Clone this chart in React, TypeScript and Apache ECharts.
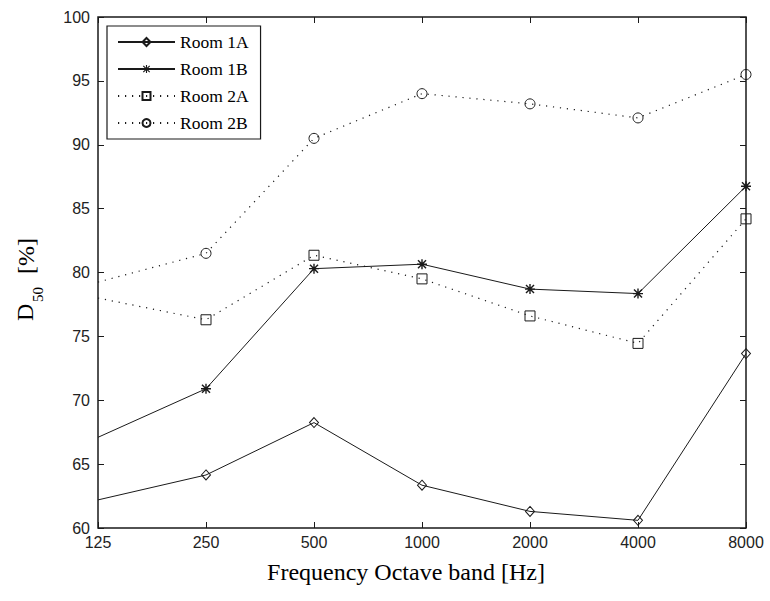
import React, { useEffect, useRef } from "react";
import * as echarts from "echarts";

// Octave band centre frequencies [Hz]
const bands = ["125", "250", "500", "1000", "2000", "4000", "8000"];

// D50 definition values [%] per room
const room1A = [62.2, 64.15, 68.25, 63.35, 61.3, 60.6, 73.65];
const room1B = [67.1, 70.9, 80.3, 80.65, 78.7, 78.35, 86.75];
const room2A = [78.0, 76.3, 81.35, 79.5, 76.6, 74.45, 84.2];
const room2B = [79.25, 81.5, 90.5, 94.0, 93.2, 92.1, 95.5];

const yTicks = { min: 60, max: 100, step: 5 };

const ASTERISK =
  "path://M4.3 0H5.7V10H4.3Z M0 4.3H10V5.7H0Z M0.5 1.5L1.5 0.5L9.5 8.5L8.5 9.5Z M8.5 0.5L9.5 1.5L1.5 9.5L0.5 8.5Z";

const INK = "#1a1a1a";
const SERIF = "'Liberation Serif', 'Times New Roman', serif";
const SANS = "'Liberation Sans', Arial, sans-serif";

// The 125 Hz value sits on the left frame; its marker is not shown.
const withHiddenFirst = (vals: number[]) =>
  vals.map((v, i) => (i === 0 ? { value: v, symbol: "none" } : v));

export default function App() {
  const ref = useRef<HTMLDivElement>(null);

  useEffect(() => {
    if (!ref.current) return;
    const chart = echarts.init(ref.current, null, { renderer: "svg" });

    const hollow = { color: "rgba(255,255,255,0)", borderColor: INK, borderWidth: 1 };
    const dotted = { color: INK, width: 1.2, type: [1.2, 5.8] as any };
    const solid = { color: INK, width: 1 };

    const seriesDefs = [
      { name: "Room 1A", data: room1A, symbol: "diamond", size: [9, 10], line: solid, item: hollow },
      { name: "Room 1B", data: room1B, symbol: ASTERISK, size: 10, line: solid, item: { color: INK } },
      { name: "Room 2A", data: room2A, symbol: "rect", size: 10, line: dotted, item: hollow },
      { name: "Room 2B", data: room2B, symbol: "circle", size: 10, line: dotted, item: hollow },
    ];

    const tickStyle = { show: true, inside: true, length: 6, lineStyle: { color: INK, width: 1 } };

    chart.setOption({
      animation: false,
      backgroundColor: "#fff",
      grid: {
        left: 98,
        right: 24,
        top: 17,
        bottom: 73,
        show: true,
        borderColor: INK,
        borderWidth: 1.5,
        backgroundColor: "transparent",
      },
      legend: {
        orient: "vertical",
        left: 107,
        top: 26,
        padding: [7, 12, 7, 10],
        itemGap: 9,
        itemWidth: 57,
        itemHeight: 10,
        borderColor: INK,
        borderWidth: 1.2,
        backgroundColor: "#fff",
        textStyle: { fontFamily: SERIF, fontSize: 17.5, color: "#000" },
        data: seriesDefs.map((s) => s.name),
      },
      xAxis: [
        {
          type: "category",
          data: bands,
          boundaryGap: false,
          position: "bottom",
          axisLine: { show: false },
          axisTick: { ...tickStyle, alignWithLabel: true },
          axisLabel: { color: "#222", fontFamily: SANS, fontSize: 16, margin: 6, interval: 0 },
          splitLine: { show: false },
        },
        {
          type: "category",
          data: bands,
          boundaryGap: false,
          position: "top",
          axisLine: { show: false },
          axisTick: { ...tickStyle, alignWithLabel: true },
          axisLabel: { show: false },
          splitLine: { show: false },
        },
      ],
      yAxis: [
        {
          type: "value",
          min: yTicks.min,
          max: yTicks.max,
          interval: yTicks.step,
          position: "left",
          axisLine: { show: false },
          axisTick: tickStyle,
          axisLabel: { color: "#222", fontFamily: SANS, fontSize: 16, margin: 8 },
          splitLine: { show: false },
        },
        {
          type: "value",
          min: yTicks.min,
          max: yTicks.max,
          interval: yTicks.step,
          position: "right",
          axisLine: { show: false },
          axisTick: tickStyle,
          axisLabel: { show: false },
          splitLine: { show: false },
        },
      ],
      series: seriesDefs.map((s) => ({
        name: s.name,
        type: "line",
        xAxisIndex: 0,
        yAxisIndex: 0,
        data: withHiddenFirst(s.data),
        symbol: s.symbol,
        symbolSize: s.size,
        showAllSymbol: true,
        clip: false,
        lineStyle: s.line,
        itemStyle: s.item,
        emphasis: { disabled: true },
      })),
      graphic: [
        {
          type: "text",
          x: 406,
          y: 572,
          style: {
            text: "Frequency Octave band [Hz]",
            fontFamily: SERIF,
            fontSize: 24,
            fill: "#000",
            align: "center",
            verticalAlign: "middle",
          },
        },
        {
          type: "text",
          x: 25,
          y: 321,
          rotation: Math.PI / 2,
          style: { text: "D", fontFamily: SERIF, fontSize: 24, fill: "#000", align: "left", verticalAlign: "middle" },
        },
        {
          type: "text",
          x: 38,
          y: 302,
          rotation: Math.PI / 2,
          style: { text: "50", fontFamily: SERIF, fontSize: 15, fill: "#000", align: "left", verticalAlign: "middle" },
        },
        {
          type: "text",
          x: 26,
          y: 274,
          rotation: Math.PI / 2,
          style: { text: "[%]", fontFamily: SERIF, fontSize: 24, fill: "#000", align: "left", verticalAlign: "middle" },
        },
      ],
    });

    return () => chart.dispose();
  }, []);

  return <div ref={ref} style={{ width: 770, height: 601, position: "absolute", left: 0, top: 0 }} />;
}
